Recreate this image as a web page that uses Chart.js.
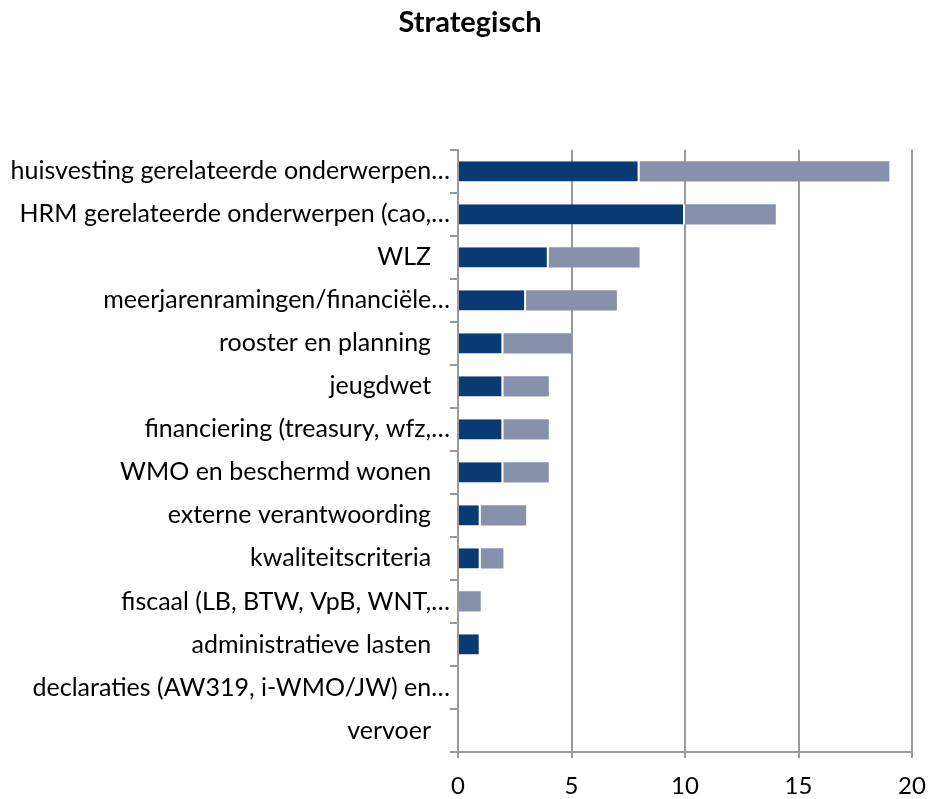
<!DOCTYPE html>
<html>
<head>
<meta charset="utf-8">
<script src="https://cdn.jsdelivr.net/npm/chart.js@4"></script>
<style>
  html, body { margin: 0; padding: 0; background: #fff; }
  #wrap { width: 930px; height: 799px; }
</style>
</head>
<body>
<div id="wrap"><canvas id="chart" width="930" height="799"></canvas></div>
<script>
const categories = [
  "huisvesting gerelateerde onderwerpen…",
  "HRM gerelateerde onderwerpen (cao,…",
  "WLZ \u2002",
  "meerjarenramingen/financiële…",
  "rooster en planning \u2002",
  "jeugdwet \u2002",
  "financiering (treasury, wfz,…",
  "WMO en beschermd wonen \u2002",
  "externe verantwoording \u2002",
  "kwaliteitscriteria \u2002",
  "fiscaal (LB, BTW, VpB, WNT,…",
  "administratieve lasten \u2002",
  "declaraties (AW319, i-WMO/JW) en…",
  "vervoer \u2002"
];
const seriesA = [8, 10, 4, 3, 2, 2, 2, 2, 1, 1, 0, 1, 0, 0];
const seriesB = [11, 4, 4, 4, 3, 2, 2, 2, 2, 1, 1, 0, 0, 0];
const xTicks = [0, 5, 10, 15, 20];

const gridColor = "#9a9a9a";
const font = "Lato, 'Open Sans', sans-serif";

// schuif de titel iets naar rechts, zoals in het origineel
const titleShift = {
  id: "titleShift",
  afterLayout(chart) {
    if (chart.titleBlock) { chart.titleBlock.left += 14; chart.titleBlock.right += 14; }
  }
};

new Chart(document.getElementById("chart"), {
  type: "bar",
  data: {
    labels: categories,
    datasets: [{
      label: "A",
      data: seriesA,
      backgroundColor: "#0a3a73",
      borderColor: "#ffffff",
      borderWidth: { right: 2, left: 0, top: 0, bottom: 0 },
      borderSkipped: false,
      categoryPercentage: 1,
      barPercentage: 0.47
    }, {
      label: "B",
      data: seriesB,
      backgroundColor: "#8791ab",
      borderWidth: 0,
      categoryPercentage: 1,
      barPercentage: 0.47
    }]
  },
  plugins: [titleShift],
  options: {
    indexAxis: "y",
    responsive: false,
    animation: false,
    layout: { padding: { left: 0, right: 18, top: 0, bottom: 0 } },
    plugins: {
      legend: { display: false },
      tooltip: { enabled: false },
      title: {
        display: true,
        text: "Strategisch",
        color: "#000",
        font: { family: font, size: 29, weight: "bold" },
        padding: { top: 5, bottom: 110 }
      }
    },
    scales: {
      x: {
        stacked: true,
        min: 0,
        max: 20,
        afterBuildTicks: s => { s.ticks = xTicks.map(v => ({ value: v })); },
        afterFit: s => { s.height = 47; s.paddingLeft = 0; s.paddingRight = 0; },
        grid: { color: gridColor, lineWidth: 2, tickLength: 6, tickColor: gridColor },
        border: { color: gridColor, width: 2 },
        ticks: { color: "#000", font: { family: font, size: 24 }, padding: 14, maxRotation: 0 }
      },
      y: {
        stacked: true,
        afterFit: s => { s.width = 458; },
        grid: { drawOnChartArea: false, color: gridColor, lineWidth: 2, tickLength: 8, offset: true },
        border: { color: gridColor, width: 2 },
        ticks: { color: "#000", font: { family: font, size: 25 }, padding: 0, autoSkip: false }
      }
    }
  }
});
</script>
</body>
</html>
